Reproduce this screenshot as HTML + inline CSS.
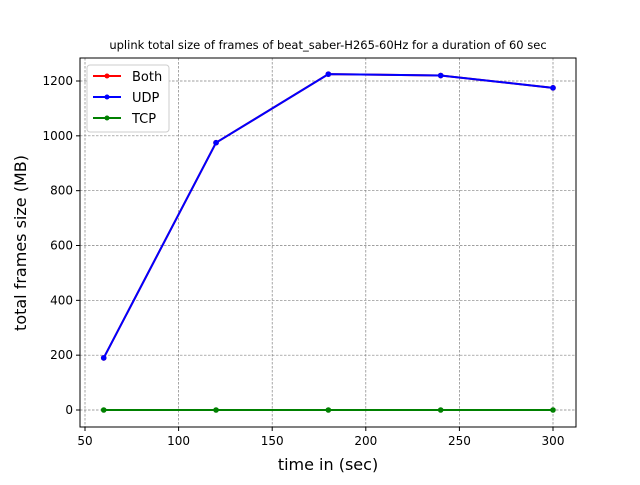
<!DOCTYPE html>
<html><head><meta charset="utf-8"><style>
body{margin:0;background:#fff;font-family:"Liberation Sans","DejaVu Sans",sans-serif}
</style></head><body>
<svg width="640" height="480" xmlns="http://www.w3.org/2000/svg" font-family="DejaVu Sans, Liberation Sans, sans-serif">
<rect width="640" height="480" fill="#fff"/>
<text x="328" y="49" font-size="11.5" text-anchor="middle">uplink total size of frames of beat_saber-H265-60Hz for a duration of 60 sec</text>
<g id="grid"></g>
<g id="plot"></g>
<rect x="80" y="58" width="496" height="369" fill="none" stroke="#000" stroke-width="1"/>
<g id="ticks"></g>
<text x="328" y="470" font-size="16" text-anchor="middle">time in (sec)</text>
<text transform="translate(26,243) rotate(-90)" font-size="16" text-anchor="middle">total frames size (MB)</text>
<g>
<rect x="87" y="65" width="82" height="67" rx="3" fill="#fff" stroke="#ccc"/>
<g><line x1="93" y1="76" x2="121" y2="76" stroke="red" stroke-width="2"/><circle cx="107" cy="76" r="2.5" fill="red"/><text x="132" y="81" font-size="13">Both</text></g>
<g><line x1="93" y1="97" x2="121" y2="97" stroke="blue" stroke-width="2"/><circle cx="107" cy="97" r="2.5" fill="blue"/><text x="132" y="102" font-size="13">UDP</text></g>
<g><line x1="93" y1="118" x2="121" y2="118" stroke="green" stroke-width="2"/><circle cx="107" cy="118" r="2.5" fill="green"/><text x="132" y="123" font-size="13">TCP</text></g>
</g>
</svg>
<script>
const times=[60,120,180,240,300];
const both=[190,975,1225,1220,1175];
const udp=[190,975,1225,1220,1175];
const tcp=[0,0,0,0,0];
const xTicks=[50,100,150,200,250,300];
const yTicks=[0,200,400,600,800,1000,1200];
const NS="http://www.w3.org/2000/svg";
const xs=v=>85+(v-50)*468/250;
const ys=v=>410-v*329/1200;
function mk(t,a,p){const e=document.createElementNS(NS,t);for(const k in a)e.setAttribute(k,a[k]);p.appendChild(e);return e;}
const grid=document.getElementById('grid'),tk=document.getElementById('ticks'),plot=document.getElementById('plot');
xTicks.forEach(v=>{const x=xs(v);
const g=mk('line',{x1:x,y1:58,x2:x,y2:427,stroke:'#808080','stroke-width':0.7,'stroke-dasharray':'2.5,1.5'},grid);


mk('line',{x1:x,y1:427,x2:x,y2:431,stroke:'#000'},tk);
const t=mk('text',{x:x,y:445,'font-size':12,'text-anchor':'middle'},tk);t.textContent=v;

});
yTicks.forEach(v=>{const y=ys(v);
const g=mk('line',{x1:80,y1:y,x2:576,y2:y,stroke:'#808080','stroke-width':0.7,'stroke-dasharray':'2.5,1.5'},grid);


mk('line',{x1:76,y1:y,x2:80,y2:y,stroke:'#000'},tk);
const t=mk('text',{x:73,y:y+4,'font-size':12,'text-anchor':'end'},tk);t.textContent=v;

});
[[both,'red','both'],[udp,'blue','udp'],[tcp,'green','tcp']].forEach(([d,c,n])=>{
const p=mk('polyline',{points:d.map((v,i)=>xs(times[i])+','+ys(v)).join(' '),fill:'none',stroke:c,'stroke-width':2},plot);


d.forEach((v,i)=>{const m=mk('circle',{cx:xs(times[i]),cy:ys(v),r:2.8,fill:c},plot);

});});
</script>
</body></html>
